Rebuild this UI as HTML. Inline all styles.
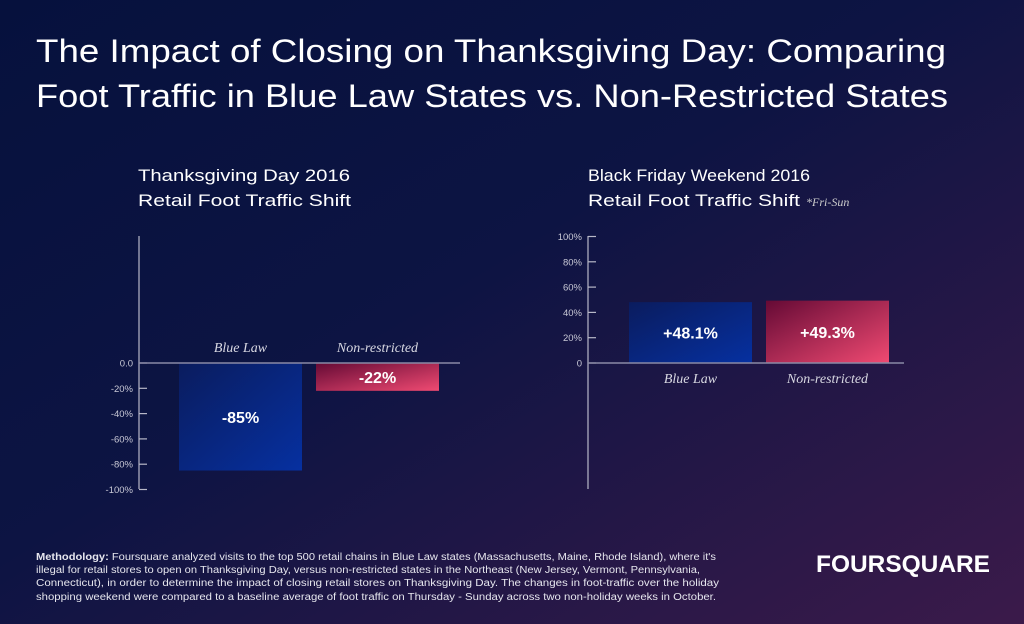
<!DOCTYPE html>
<html><head><meta charset="utf-8"><style>
html,body{margin:0;padding:0;width:1024px;height:624px;overflow:hidden;background:#0b1241}
svg{display:block}
text{font-family:"Liberation Sans",sans-serif}
.tk{fill:#c9c9d6;font-size:9.5px;text-anchor:end}
.cat{fill:#d8d8e2;font-family:"Liberation Serif",serif;font-style:italic;font-size:14px;text-anchor:middle}
.val{fill:#fff;font-weight:bold;font-size:16px;text-anchor:middle}
.sub{fill:#fff;font-size:17px}
.foot{fill:#e6e6ee;font-size:10px}
.note{font-family:"Liberation Serif",serif;font-style:italic;font-size:12px;fill:#ccc}
</style></head><body>
<svg id="c" width="1024" height="624" viewBox="0 0 1024 624">
<defs>
<linearGradient id="bg" x1="0" y1="0" x2="1" y2="1">
<stop offset="0" stop-color="#06113d"/><stop offset="0.45" stop-color="#0d1443"/><stop offset="1" stop-color="#3b1a4a"/>
</linearGradient>
<linearGradient id="gb" x1="0" y1="0" x2="1" y2="1"><stop offset="0" stop-color="#0a1c5e"/><stop offset="1" stop-color="#0630a0"/></linearGradient>
<linearGradient id="gr" x1="0" y1="0" x2="1" y2="1"><stop offset="0" stop-color="#650a35"/><stop offset="1" stop-color="#f04a72"/></linearGradient>
</defs>
<rect width="1024" height="624" fill="url(#bg)"/>
<text x="36" y="62" fill="#fff" font-size="32" textLength="910" lengthAdjust="spacingAndGlyphs">The Impact of Closing on Thanksgiving Day: Comparing</text>
<text x="36" y="107" fill="#fff" font-size="32" textLength="912" lengthAdjust="spacingAndGlyphs">Foot Traffic in Blue Law States vs. Non-Restricted States</text>
<text class="sub" x="138" y="181" textLength="212" lengthAdjust="spacingAndGlyphs">Thanksgiving Day 2016</text>
<text class="sub" x="138" y="206" textLength="213" lengthAdjust="spacingAndGlyphs">Retail Foot Traffic Shift</text>
<text class="sub" x="588" y="181" textLength="222" lengthAdjust="spacingAndGlyphs">Black Friday Weekend 2016</text>
<text class="sub" x="588" y="206" textLength="212" lengthAdjust="spacingAndGlyphs">Retail Foot Traffic Shift</text>
<text class="note" x="806" y="206">*Fri-Sun</text>
<g id="left"></g>
<g id="right"></g>
<g>
<text class="foot" x="36" y="560" textLength="680" lengthAdjust="spacingAndGlyphs"><tspan font-weight="bold">Methodology:</tspan> Foursquare analyzed visits to the top 500 retail chains in Blue Law states (Massachusetts, Maine, Rhode Island), where it's</text>
<text class="foot" x="36" y="573" textLength="664" lengthAdjust="spacingAndGlyphs">illegal for retail stores to open on Thanksgiving Day, versus non-restricted states in the Northeast (New Jersey, Vermont, Pennsylvania,</text>
<text class="foot" x="36" y="586" textLength="683" lengthAdjust="spacingAndGlyphs">Connecticut), in order to determine the impact of closing retail stores on Thanksgiving Day. The changes in foot-traffic over the holiday</text>
<text class="foot" x="36" y="600" textLength="680" lengthAdjust="spacingAndGlyphs">shopping weekend were compared to a baseline average of foot traffic on Thursday - Sunday across two non-holiday weeks in October.</text>
</g>
<text x="816" y="572" fill="#fff" font-size="24" font-weight="bold" textLength="174" lengthAdjust="spacingAndGlyphs">FOURSQUARE</text>
</svg>
<script>
const categories=["Blue Law","Non-restricted"];
const thanksValues=[-85,-22];
const thanksLabels=["-85%","-22%"];
const thanksTicks=[0,-20,-40,-60,-80,-100];
const thanksTickLabels=["0.0","-20%","-40%","-60%","-80%","-100%"];
const fridayValues=[48.1,49.3];
const fridayLabels=["+48.1%","+49.3%"];
const fridayTicks=[0,20,40,60,80,100];
const fridayTickLabels=["0","20%","40%","60%","80%","100%"];
const NS="http://www.w3.org/2000/svg";
function mk(p,t,a){const e=document.createElementNS(NS,t);for(const k in a)e.setAttribute(k,a[k]);p.appendChild(e);return e;}
function chart(g,axX,zeroY,top,bottom,lineEnd,vals,labs,ticks,tlabs,barX,catAbove){
  const y=v=>zeroY-v*1.265;
  const ax=mk(g,'line',{x1:axX,x2:axX,y1:top,y2:bottom,stroke:'#b8b8c8','stroke-width':1.2});
  
  
  ticks.forEach((t,i)=>{
    const tl=mk(g,'line',{x1:axX,x2:axX+8,y1:y(t),y2:y(t),stroke:'#b8b8c8','stroke-width':1.2});
    
    
    const tx=mk(g,'text',{class:'tk',x:axX-6,y:y(t)+3.5});tx.textContent=tlabs[i];
    
    
  });
  vals.forEach((v,i)=>{
    const x=barX[i],w=123,y0=Math.min(y(0),y(v)),h=Math.abs(y(v)-y(0));
    const r=mk(g,'rect',{x:x,y:y0,width:w,height:h,fill:i==0?'url(#gb)':'url(#gr)'});
    
    
    const vt=mk(g,'text',{class:'val',x:x+w/2,y:y0+h/2+6});vt.textContent=labs[i];
    
    
    const ct=mk(g,'text',{class:'cat',x:x+w/2,y:catAbove?y(0)-11:y(0)+20});ct.textContent=categories[i];
    
    
  });
  const zl=mk(g,'line',{x1:axX,x2:lineEnd,y1:zeroY,y2:zeroY,stroke:'#8a8aa6','stroke-width':1.5});
  
  
}
chart(document.getElementById('left'),139,363,236,489,460,thanksValues,thanksLabels,thanksTicks,thanksTickLabels,[179,316],true);
chart(document.getElementById('right'),588,363,236,489,904,fridayValues,fridayLabels,fridayTicks,fridayTickLabels,[629,766],false);
</script>
</body></html>
